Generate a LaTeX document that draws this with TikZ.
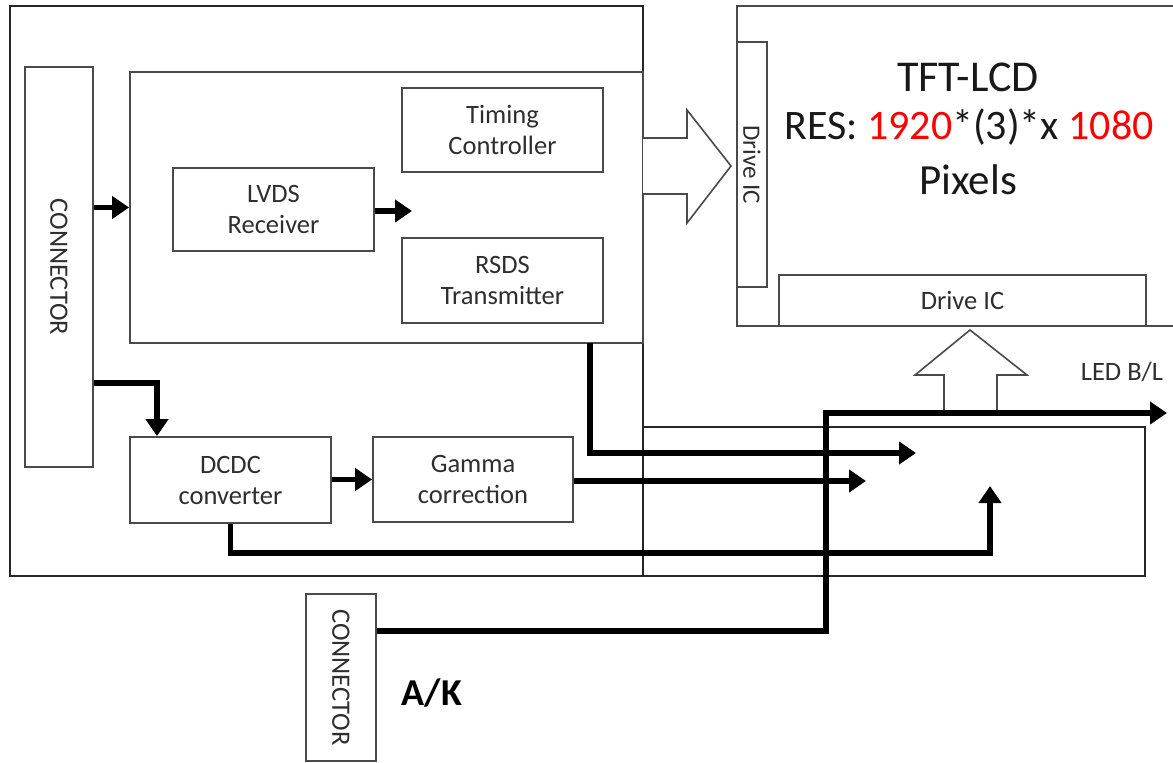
\documentclass[tikz,border=0pt]{standalone}
\usepackage{fontspec}
\setmainfont{Carlito}
\usetikzlibrary{arrows.meta}
\definecolor{boxgray}{HTML}{4A4A4A}
\definecolor{txtgray}{HTML}{2E2E2E}
\begin{document}
\begin{tikzpicture}[x=1pt,y=-1pt,
  box/.style={draw=boxgray, line width=1.8pt, fill=white, align=center, inner sep=0pt,
              font=\fontsize{26.5}{31}\selectfont, text=txtgray},
  lbl/.style={inner sep=0pt, font=\fontsize{26.5}{31}\selectfont, text=txtgray},
  frame/.style={draw=black!85, line width=2.4pt},
  thk/.style={line width=5.5pt, draw=black},
  tip/.style={-{Triangle[length=17pt,width=22pt]}},
  hollow/.style={draw=boxgray, line width=1.6pt, fill=white, line join=miter}]
\useasboundingbox (0,0) rectangle (1173,763);

% outer frames
\draw[frame] (10,6) rectangle (643,576);
\draw[frame] (643,427) rectangle (1145,576);

% inner processing box
\node[box, minimum width=513, minimum height=271] (inner) at (386.5,207.5) {};
\node[box, minimum width=201, minimum height=84] (tc) at (502.5,130) {Timing\\Controller};
\node[box, minimum width=201, minimum height=83] (lvds) at (273.5,209.5) {LVDS\\Receiver};
\node[box, minimum width=201, minimum height=85] (rsds) at (502.5,280.5) {RSDS\\Transmitter};
\node[box, minimum width=201, minimum height=86] (dcdc) at (230.5,480) {DCDC\\converter};
\node[box, minimum width=200, minimum height=85] (gamma) at (473,479.5) {Gamma\\correction};

% connectors (boxes + rotated labels)
\node[box, minimum width=68, minimum height=400] (conn) at (59,267) {};
\node[lbl, rotate=-90] (connl) at (conn.center) {CONNECTOR};
\node[box, minimum width=70, minimum height=167] (conn2) at (341,677.5) {};
\node[lbl, rotate=-90] (conn2l) at (conn2.center) {CONNECTOR};

% TFT-LCD panel
\draw[box] (737,6) rectangle (1190,326);
\node[inner sep=0pt, text=black!90, font=\fontsize{44}{52}\selectfont] (tft1) at (968,77) {TFT-LCD};
\node[inner sep=0pt, text=black!90, font=\fontsize{42}{52}\selectfont] (tft2) at (969,127)
  {RES: \textcolor{red}{1920}*(3)*x \textcolor{red}{1080}};
\node[inner sep=0pt, text=black!90, font=\fontsize{43}{52}\selectfont] (tft3) at (968,180) {Pixels};
\node[box, minimum width=30, minimum height=245] (dicv) at (752,164.5) {};
\node[lbl, rotate=-90, font=\fontsize{25}{28}\selectfont] (dicvl) at (dicv.center) {Drive IC};
\node[box, minimum width=367, minimum height=51] (dich) at (962.5,300.5) {Drive IC};

% hollow arrows
\draw[hollow] (643,138) -- (687,138) -- (687,110) -- (731,166) -- (687,223) -- (687,194) -- (643,194);
\draw[hollow] (944,413) -- (944,375) -- (915,375) -- (970,330) -- (1027,375) -- (997,375) -- (997,413);

% labels
\node[lbl] (led) at (1122,372) {LED B/L};
\node[inner sep=0pt, text=black, font=\fontsize{38}{42}\selectfont\bfseries] (ak) at (432,693) {A/K};

% coordinates for free ends / bends
\coordinate (lvdsout) at (412,211);
\coordinate (c1) at (157,383);
\coordinate (r1) at (590,343);
\coordinate (r2) at (590,453);
\coordinate (e1) at (916,453);
\coordinate (e2) at (866,481);
\coordinate (d1) at (990,553);
\coordinate (e3) at (990,486);
\coordinate (k1) at (826,631);
\coordinate (k2) at (826,413);
\coordinate (e4) at (1167,413);

% thick signal lines
\draw[thk, tip] (conn.east |- inner.west) -- (inner.west);
\draw[thk, tip] (lvds.east |- lvdsout) -- (lvdsout);
\draw[thk, tip] (conn.east |- c1) -| (dcdc.north -| c1);
\draw[thk, tip] (dcdc.east |- gamma.west) -- (gamma.west);
\draw[thk, tip, line join=miter] (r1) -- (r2) -- (e1);
\draw[thk, tip] (gamma.east |- e2) -- (e2);
\draw[thk, tip, line join=miter] (dcdc.south) |- (d1) -- (e3);
\draw[thk, tip, line join=miter] (conn2.east |- k1) -- (k1) -- (k2) -- (e4);
\end{tikzpicture}
\end{document}
